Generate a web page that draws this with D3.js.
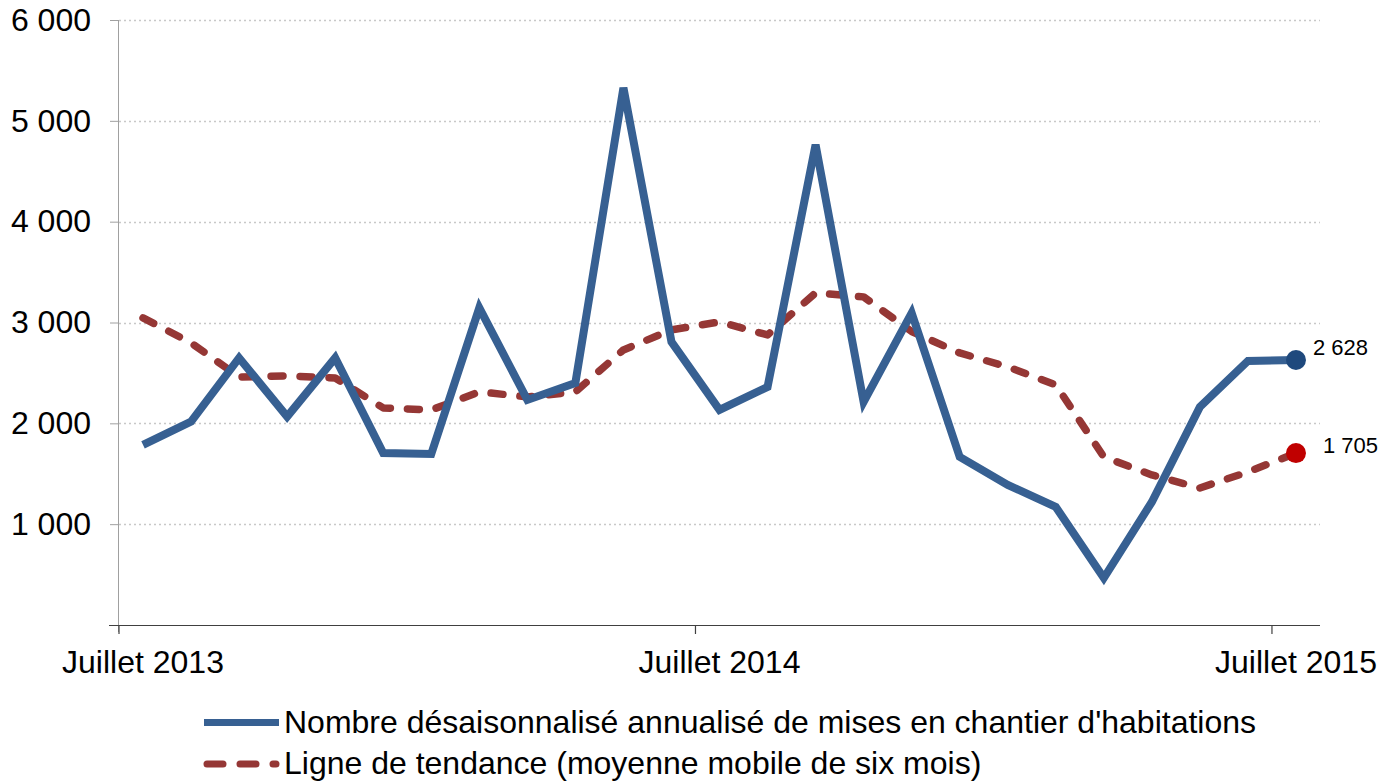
<!DOCTYPE html>
<html>
<head>
<meta charset="utf-8">
<script src="https://d3js.org/d3.v7.min.js"></script>
<style>
  body { margin: 0; background: #fff; }
  svg { display: block; font-family: "Liberation Sans", Arial, sans-serif; }
</style>
</head>
<body>
<svg id="chart" width="1397" height="784"></svg>
<script>
// monthly data, July 2013 .. July 2015
var months = d3.range(25);
var tickLabels = ["Juillet 2013", "Juillet 2014", "Juillet 2015"];
var tickMonths = [0, 12, 24];
var yTicks = [1000, 2000, 3000, 4000, 5000, 6000];

var starts = [1786, 2017, 2649, 2067, 2649, 1706, 1696, 3145, 2232, 2401,
              5327, 2808, 2133, 2361, 4762, 2212, 3095, 1667, 1389, 1171,
              466, 1220, 2163, 2619, 2628];
var trend  = [3046, 2798, 2460, 2470, 2450, 2153, 2133, 2312, 2262, 2312,
              2728, 2927, 3006, 2877, 3294, 3254, 2910, 2698, 2560, 2381,
              1667, 1488, 1359, 1518, 1705];

var seriesNames = ["Nombre désaisonnalisé annualisé de mises en chantier d'habitations",
                   "Ligne de tendance (moyenne mobile de six mois)"];

var svg = d3.select("#chart");
var mLeft = 119, mRight = 1320, mTop = 20, mBottom = 625;

var x = d3.scaleBand().domain(months).range([mLeft, mRight]).padding(0);
var y = d3.scaleLinear().domain([0, 6000]).range([mBottom, mTop]);
var cx = function(i) { return x(i) + x.bandwidth() / 2; };
var fmt = function(d) { return d3.format(",")(d).replace(",", " "); };

// gridlines
svg.append("g")
    .selectAll("line")
    .data(yTicks)
    .join("line")
      .attr("x1", mLeft).attr("x2", mRight)
      .attr("y1", function(d) { return Math.round(y(d)) + 0.5; })
      .attr("y2", function(d) { return Math.round(y(d)) + 0.5; })
      .attr("stroke", "#c8c8c8")
      .attr("stroke-width", 1.5)
      .attr("stroke-dasharray", "2,3");

// y axis
var yAxis = svg.append("g")
    .attr("transform", "translate(" + mLeft + ",0)")
    .call(d3.axisLeft(y).tickValues(yTicks).tickSize(9).tickPadding(19).tickFormat(fmt));
yAxis.select(".domain").attr("stroke", "#a0a0a0").attr("d", "M-0.5," + mTop + "V" + (mBottom + 7));
yAxis.selectAll(".tick line").attr("stroke", "#a0a0a0");
yAxis.selectAll("text").attr("font-size", 32).attr("fill", "#000")
    .attr("font-family", "Liberation Sans, Arial, sans-serif");

// x axis
var xAxis = svg.append("g")
    .attr("transform", "translate(0," + mBottom + ")");
xAxis.append("line")
    .attr("x1", mLeft - 10).attr("x2", mRight)
    .attr("y1", 0.5).attr("y2", 0.5)
    .attr("stroke", "#404040").attr("stroke-width", 1.2);
xAxis.selectAll("line.tk")
    .data(tickMonths)
    .join("line")
      .attr("class", "tk")
      .attr("x1", function(d) { return x(d); })
      .attr("x2", function(d) { return x(d); })
      .attr("y1", 0).attr("y2", 9)
      .attr("stroke", "#404040").attr("stroke-width", 1.2);
xAxis.selectAll("text")
    .data(tickMonths)
    .join("text")
      .attr("x", function(d) { return cx(d); })
      .attr("y", 48)
      .attr("text-anchor", "middle")
      .attr("font-size", 32)
      .text(function(d, i) { return tickLabels[i]; });

var line = d3.line()
    .x(function(d, i) { return cx(i); })
    .y(function(d) { return y(d); });

svg.append("path")
    .datum(trend)
    .attr("d", line)
    .attr("fill", "none")
    .attr("stroke", "#953735")
    .attr("stroke-width", 7.5)
    .attr("stroke-linecap", "round")
    .attr("stroke-linejoin", "round")
    .attr("stroke-dasharray", "12,17");

svg.append("path")
    .datum(starts)
    .attr("d", line)
    .attr("fill", "none")
    .attr("stroke", "#376092")
    .attr("stroke-width", 8)
    .attr("stroke-linejoin", "miter");

// end markers and labels
var last = months.length - 1;
var ends = [
    { v: starts[last], color: "#1f497d", dx: 17, dy: -5 },
    { v: trend[last], color: "#c00000", dx: 27, dy: 0 }
];
svg.selectAll("circle.end")
    .data(ends)
    .join("circle")
      .attr("class", "end")
      .attr("cx", cx(last))
      .attr("cy", function(d) { return y(d.v); })
      .attr("r", 10)
      .attr("fill", function(d) { return d.color; });
svg.selectAll("text.endlbl")
    .data(ends)
    .join("text")
      .attr("class", "endlbl")
      .attr("x", function(d) { return cx(last) + d.dx; })
      .attr("y", function(d) { return y(d.v) + d.dy; })
      .attr("font-size", 22)
      .text(function(d) { return fmt(d.v); });

// legend
var legend = svg.append("g");
var rows = [
    { y: 722.5, color: "#376092", dash: null },
    { y: 764, color: "#953735", dash: "16,17" }
];
rows.forEach(function(r, i) {
    legend.append("line")
        .attr("x1", r.dash ? 207 : 204).attr("x2", r.dash ? 276 : 279)
        .attr("y1", r.y).attr("y2", r.y)
        .attr("stroke", r.color)
        .attr("stroke-width", 7)
        .attr("stroke-linecap", r.dash ? "round" : "butt")
        .attr("stroke-dasharray", r.dash);
    legend.append("text")
        .attr("x", 284).attr("y", r.y + 10)
        .attr("font-size", 32)
        .text(seriesNames[i]);
});
</script>
</body>
</html>
